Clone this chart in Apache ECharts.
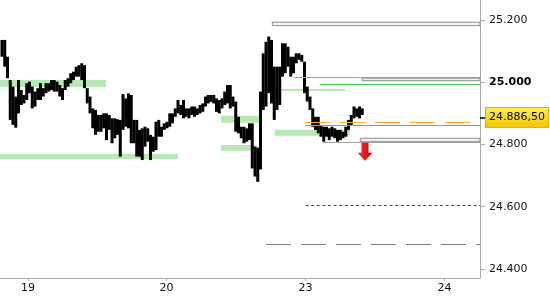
<!DOCTYPE html>
<html><head><meta charset="utf-8">
<script src="https://cdn.jsdelivr.net/npm/echarts@6/dist/echarts.min.js"></script>
<style>html,body{margin:0;padding:0;background:#fff}#c{width:550px;height:300px}</style>
</head><body><div id="c"></div>
<script>
// bar highs / lows (index points), one bar per slot
const highs=[25136,25136,25082,25007,24986,24954,25007,24975,24959,24997,25002,24986,24970,24981,24997,24981,24997,24997,25007,25007,25002,24991,24981,25007,25013,25029,25034,25050,25055,25061,25055,24981,24954,24916,24911,24895,
24895,24900,24900,24895,24884,24884,24881,24879,24962,24948,24964,24959,24879,24879,24847,24852,24857,24852,24831,24825,24873,24879,24857,24868,24873,24900,24900,24916,24943,24927,24943,24916,24916,24922,24922,24916,24927,24932,24954,24959,24959,24959,24948,24943,24948,24970,24991,24991,24954,24938,24889,24857,24857,24852,24868,24868,24793,24790,24970,
25093,25130,25147,25136,25050,25050,25050,25125,25125,25114,25082,25082,25093,25093,25088,25066,24986,24954,24916,24889,24889,24863,24857,24857,24852,24857,24852,24847,24847,24841,24857,24879,24895,24922,24916,24922,24916];
const lows=[25082,25050,25013,24879,24863,24854,24900,24927,24932,24943,24965,24916,24922,24943,24943,24954,24965,24970,24975,24970,24970,24954,24943,24975,24986,24997,25007,25018,25018,25007,24981,24932,24900,24852,24831,24841,
24841,24852,24814,24847,24804,24820,24831,24761,24847,24857,24852,24804,24804,24761,24761,24750,24793,24809,24750,24777,24782,24825,24825,24847,24852,24857,24868,24889,24900,24895,24884,24889,24884,24895,24889,24895,24900,24905,24922,24932,24937,24932,24905,24900,24916,24927,24932,24916,24922,24841,24836,24820,24804,24809,24814,24723,24697,24680,24720,
24911,24922,24965,24932,24879,24911,24927,25018,25029,25050,25018,25029,25061,25072,25066,24965,24938,24911,24857,24847,24836,24825,24809,24825,24814,24825,24820,24809,24814,24820,24825,24847,24863,24884,24889,24884,24895];
// day boundaries (in bar-slot units) and their labels
const dayTickPos=[9.45,59.85,110.36,160.87];
const dayLabels=['19','20','23','24'];
const yTicks=[24400,24600,24800,25000,25200];
const lastPrice=24886.5;
// zones: [fromSlot, toSlot(null = right edge), upper, lower]
const greenZones=[[-0.73,37.8,25007,24985],[-0.73,64.0,24770,24753],[79.6,93.8,24892,24870],[79.6,92.6,24798,24780],[99.3,126.5,24847,24828],[100.4,124.7,24978,24972]];
const grayZones=[[98.3,null,25193,25182],[131.0,null,25013,25005],[130.3,null,24820,24809]];
// levels: [fromSlot, price]
const grayLevels=[[106.2,25017],[116.8,24807]];
const greenLevels=[[115.6,24993],[110.2,24862]];
const orangeLevel=[110.2,24871];
const purpleLevel=[110.4,24604];
const grayDashLevel=[96.0,24480];
const arrowMark=[132.0,24777];

const xMin=-0.727, xMax=173.82;
const yMin=24371, yMax=25264.3;
const FONT='DejaVu Sans';

function fmtK(v){const k=Math.floor(v/1000);const r=Math.round(v-k*1000);return k+'.'+String(r).padStart(3,'0');}
function fmtPrice(v){const ip=Math.floor(v);const dec=Math.round((v-ip)*100);return fmtK(ip)+','+String(dec).padStart(2,'0');}

const chart=echarts.init(document.getElementById('c'),null,{renderer:'canvas'});

function hLine(from,price,style){return [{coord:[from,price],lineStyle:style},{coord:[xMax,price]}];}

chart.setOption({
  animation:false,
  backgroundColor:'#fff',
  grid:{left:0,right:70,top:0,bottom:22,containLabel:false,outerBoundsMode:'none'},
  xAxis:{type:'value',min:xMin,max:xMax,splitLine:{show:false},
    axisLine:{show:true,onZero:false,lineStyle:{color:'#a9a9a9'}},
    axisTick:{show:true,length:3,customValues:dayTickPos,lineStyle:{color:'#a9a9a9'}},
    axisLabel:{customValues:dayTickPos,margin:5,color:'#111',fontSize:11,fontFamily:FONT,
      formatter:v=>{let b=0;dayTickPos.forEach((p,i)=>{if(Math.abs(p-v)<Math.abs(dayTickPos[b]-v))b=i;});return dayLabels[b];}}},
  yAxis:[
    {type:'value',position:'right',min:yMin,max:yMax,splitLine:{show:false},
      axisLine:{show:true,onZero:false,lineStyle:{color:'#a9a9a9'}},
      axisTick:{show:true,length:5,customValues:yTicks,lineStyle:{color:'#a9a9a9'}},
      axisLabel:{customValues:yTicks,margin:9,color:'#111',fontSize:11,fontFamily:FONT,
        formatter:v=>v===25000?'{b|'+fmtK(v)+'}':fmtK(v),
        rich:{b:{fontWeight:'bold',fontSize:11,fontFamily:FONT,color:'#000'}}}},
    {type:'value',position:'right',min:yMin,max:yMax,splitLine:{show:false},
      axisLine:{show:false,onZero:false},
      axisTick:{show:true,length:5,customValues:[lastPrice],lineStyle:{color:'#000',width:1.5}},
      axisLabel:{customValues:[lastPrice],margin:6,color:'#000',fontSize:11,fontFamily:FONT,
        formatter:v=>fmtPrice(v),
        backgroundColor:{type:'linear',x:0,y:0,x2:0,y2:1,colorStops:[{offset:0,color:'#fff04a'},{offset:1,color:'#f3c400'}]},
        borderColor:'#e0b400',borderWidth:1,padding:[4,3,4,3]}}
  ],
  series:[
    {type:'line',data:[],z:1,silent:true,
      markArea:{silent:true,data:
        greenZones.map(z=>[{coord:[z[0],z[2]],itemStyle:{color:'#b6e9b4',borderWidth:0}},{coord:[z[1]===null?xMax:z[1],z[3]]}])
        .concat(grayZones.map(z=>[{coord:[z[0],z[2]],itemStyle:{color:'#f2f2f2',borderColor:'#8c8c8c',borderWidth:1}},{coord:[z[1]===null?xMax:z[1],z[3]]}]))}},
    {type:'custom',z:3,silent:true,clip:true,
      data:highs.map((h,i)=>[i,lows[i],h]),
      renderItem:(params,api)=>{
        const x=api.value(0);
        const lo=api.coord([x,api.value(1)]);
        const hi=api.coord([x,api.value(2)]);
        return {type:'rect',shape:{x:lo[0]-1.5,y:hi[1],width:3,height:Math.max(1,lo[1]-hi[1])},style:{fill:'#000'}};
      }},
    {type:'line',data:[],z:5,silent:true,
      markLine:{silent:true,symbol:['none','none'],label:{show:false},data:[
        ...grayLevels.map(l=>hLine(l[0],l[1],{color:'#a0a0a0',width:1,type:'solid'})),
        ...greenLevels.map(l=>hLine(l[0],l[1],{color:'#4cc84c',width:1,type:'solid'})),
        hLine(orangeLevel[0],orangeLevel[1],{color:'#ffaa22',width:1.2,type:[25,10]}),
        hLine(purpleLevel[0],purpleLevel[1],{color:'#7a1fa8',width:1,type:[3,2.6]}),
        hLine(grayDashLevel[0],grayDashLevel[1],{color:'#808080',width:1,type:[25,10]})
      ]},
      markPoint:{silent:true,data:[{coord:arrowMark,symbol:'path://M4,0 L11,0 L11,10 L15,10 L7.5,18 L0,10 L4,10 Z',symbolSize:[15,18],symbolKeepAspect:false,
        itemStyle:{color:{type:'linear',x:0,y:0,x2:1,y2:0,colorStops:[{offset:0,color:'#ff3030'},{offset:1,color:'#d00000'}]}},label:{show:false}}]}}
  ]
});
</script></body></html>
